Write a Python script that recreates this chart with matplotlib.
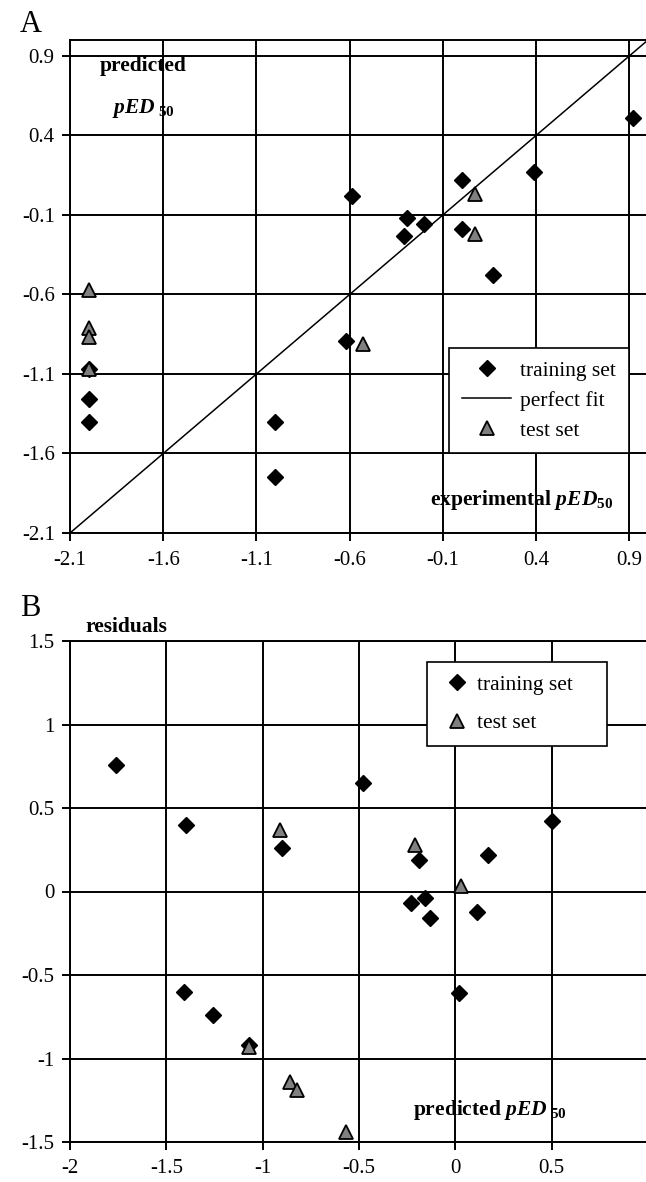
import matplotlib
matplotlib.use("Agg")
import matplotlib.pyplot as plt
from matplotlib.lines import Line2D

plt.rcParams['font.family'] = ['Liberation Serif', 'DejaVu Serif']
plt.rcParams['axes.unicode_minus'] = False
plt.rcParams['mathtext.fontset'] = 'custom'
plt.rcParams['mathtext.rm'] = 'Liberation Serif:bold'
plt.rcParams['mathtext.it'] = 'Liberation Serif:italic:bold'
plt.rcParams['mathtext.bf'] = 'Liberation Serif:bold'

# panel A: experimental vs predicted pED50
a_train_x = [0.92, 0.39, 0.0, -0.59, -0.29, -0.2, -0.31, 0.0, 0.17, -0.62, -1.0, -1.0, -2.0, -2.0, -2.0]
a_train_y = [0.51, 0.17, 0.12, 0.02, -0.12, -0.16, -0.23, -0.19, -0.48, -0.89, -1.4, -1.75, -1.07, -1.26, -1.4]
a_test_x = [-2.0, -2.0, -2.0, -2.0, -0.53, 0.07, 0.07]
a_test_y = [-0.57, -0.81, -0.87, -1.07, -0.91, 0.03, -0.22]
a_ticks = [-2.1, -1.6, -1.1, -0.6, -0.1, 0.4, 0.9]

# panel B: predicted vs residuals
b_train_x = [-1.76, -0.48, -1.4, -0.9, -0.19, 0.17, 0.5, -0.23, -0.16, -0.13, 0.11, 0.02, -1.41, -1.26, -1.07]
b_train_y = [0.76, 0.65, 0.4, 0.26, 0.19, 0.22, 0.42, -0.07, -0.04, -0.16, -0.12, -0.61, -0.6, -0.74, -0.92]
b_test_x = [-0.91, -0.21, 0.03, -1.07, -0.86, -0.82, -0.57]
b_test_y = [0.37, 0.28, 0.03, -0.93, -1.14, -1.19, -1.44]
b_xticks = [-2, -1.5, -1, -0.5, 0, 0.5]
b_yticks = [-1.5, -1, -0.5, 0, 0.5, 1, 1.5]

W, H = 646, 1182
fig = plt.figure(figsize=(W / 100, H / 100), dpi=100)

def px(x0, y0, x1, y1):
    # pixel box -> figure fraction
    return [x0 / W, 1 - y1 / H, (x1 - x0) / W, (y1 - y0) / H]

diamond = dict(marker='D', ms=8, color='black', ls='none', zorder=4)
triangle = dict(marker='^', ms=10, mfc='#808080', mec='black', mew=1.3, ls='none', zorder=5)

def style(ax, xpad, ypad):
    ax.grid(True, color='black', lw=1.4)
    ax.set_axisbelow(True)
    for s in ax.spines.values():
        s.set_linewidth(1.4)
    ax.tick_params(direction='out', length=6, width=1.4, labelsize=15)
    ax.tick_params(axis='x', pad=xpad)
    ax.tick_params(axis='y', pad=ypad)

# ---- A ----
ax = fig.add_axes(px(70, 40, 648, 533))
ax.plot([-2.1, 1.0], [-2.1, 1.0], color='black', lw=1.1, zorder=3)
ax.plot(a_train_x, a_train_y, **diamond)
ax.plot(a_test_x, a_test_y, **triangle)
ax.set_xlim(-2.1, 1.0)
ax.set_ylim(-2.1, 1.0)
ax.set_xticks(a_ticks)
ax.set_yticks(a_ticks)
ax.set_xticklabels([f"{v:g}" for v in a_ticks])
ax.set_yticklabels([f"{v:g}" for v in a_ticks])
style(ax, 7, 5)

h_train = Line2D([], [], marker='D', ms=8, color='black', ls='none')
h_fit = Line2D([], [], color='black', lw=1.1)
h_test = Line2D([], [], marker='^', ms=10, mfc='#808080', mec='black', mew=1.3, ls='none')
leg = ax.legend([h_train, h_fit, h_test], ['training set', 'perfect fit', 'test set'],
                loc='upper left', bbox_to_anchor=((449 - 70) / 578, (533 - 348) / 493),
                borderaxespad=0, fontsize=15.5, fancybox=False, framealpha=1,
                edgecolor='black', handlelength=2.3, handletextpad=0.4,
                labelspacing=0.45, borderpad=0.6)
leg.get_frame().set_linewidth(1.2)

fig.text(20 / W, 1 - 25 / H, 'A', fontsize=22, va='center', ha='left')
fig.text(100 / W, 1 - 66 / H, 'predicted', fontsize=15.5, fontweight='bold', va='center')
fig.text(112 / W, 1 - 108 / H, r'$pED_{\ 50}$', fontsize=15.5, va='center')
fig.text(430 / W, 1 - 500 / H, r'experimental $pED_{50}$', fontsize=15.5,
         fontweight='bold', va='center')

# ---- B ----
bx = fig.add_axes(px(70, 641, 648, 1142))
bx.plot(b_train_x, b_train_y, **diamond)
bx.plot(b_test_x, b_test_y, **triangle)
bx.set_xlim(-2, 1.0)
bx.set_ylim(-1.5, 1.5)
bx.set_xticks(b_xticks)
bx.set_yticks(b_yticks)
bx.set_xticklabels([f"{v:g}" for v in b_xticks])
bx.set_yticklabels([f"{v:g}" for v in b_yticks])
style(bx, 6, 5)

leg2 = bx.legend([h_train, h_test], ['training set    ', 'test set'],
                 loc='upper left', bbox_to_anchor=((427 - 70) / 578, (1142 - 662) / 501),
                 borderaxespad=0, fontsize=15.5, fancybox=False, framealpha=1,
                 edgecolor='black', handlelength=1.6, handletextpad=0.1,
                 labelspacing=0.85, borderpad=0.6)
leg2.get_frame().set_linewidth(1.2)

fig.text(20 / W, 1 - 609 / H, 'B', fontsize=22, va='center', ha='left')
fig.text(85 / W, 1 - 627 / H, 'residuals', fontsize=15.5, fontweight='bold', va='center')
fig.text(413 / W, 1 - 1110 / H, r'predicted $pED_{\ 50}$', fontsize=15.5,
         fontweight='bold', va='center')

fig.savefig('out.png', dpi=100)
